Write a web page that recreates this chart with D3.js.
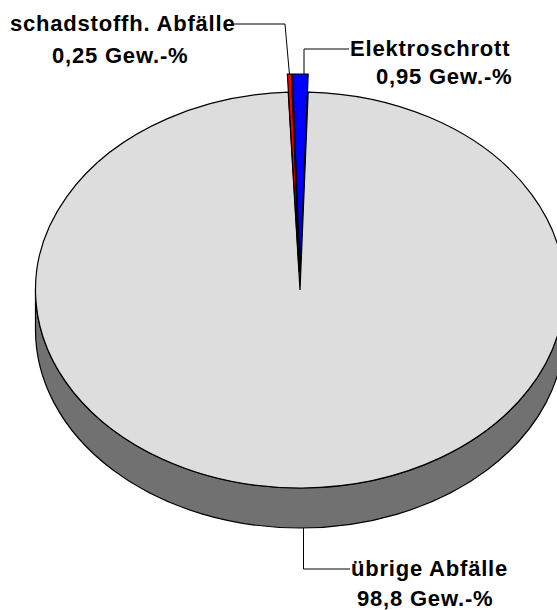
<!DOCTYPE html>
<html>
<head>
<meta charset="utf-8">
<script src="https://cdn.jsdelivr.net/npm/d3@7"></script>
<style>
  body { margin: 0; background: #fff; }
  text { font-family: "Liberation Sans", Arial, sans-serif; font-weight: bold; font-size: 22px; letter-spacing: 0.8px; fill: #000; }
</style>
</head>
<body>
<svg id="chart" width="557" height="610"></svg>
<script>
// waste shares by weight
const categories = ["schadstoffh. Abfälle", "Elektroschrott", "übrige Abfälle"];
const values = [0.25, 0.95, 98.8];
const valueLabels = ["0,25 Gew.-%", "0,95 Gew.-%", "98,8 Gew.-%"];
const exploded = [true, true, false];

const colors = ["#ff0000", "#0000ff", "#dddddd"];
const sideColor = "#717171";

const svg = d3.select("#chart");
const cx = 300, cy = 290;
const rx = 264.5, ry = 198;
const depth = 40;          // px on screen
const explode = 18;        // px on screen (vertical at top)
const k = ry / rx;
const start = -2.55 * Math.PI / 180;

const pie = d3.pie().sort(null).startAngle(start).endAngle(start + 2 * Math.PI);
const slices = pie(values).map((d, i) => Object.assign(d, {i: i}));
const arc = d3.arc().innerRadius(0).outerRadius(rx);

const g = svg.append("g").attr("transform", `translate(${cx},${cy}) scale(1,${k})`);

// side wall of the front half of the big slice
const main = slices[2];
const t0 = Math.max(main.startAngle, Math.PI / 2);
const t1 = Math.min(main.endAngle, 3 * Math.PI / 2);
const dz = depth / k;
const side = d3.path();
side.arc(0, 0, rx, t0 - Math.PI / 2, t1 - Math.PI / 2);
side.lineTo(rx * Math.sin(t1), -rx * Math.cos(t1) + dz);
side.arc(0, dz, rx, t1 - Math.PI / 2, t0 - Math.PI / 2, true);
side.closePath();
g.append("path")
  .attr("d", side.toString())
  .attr("fill", sideColor)
  .attr("stroke", "#000")
  .attr("stroke-width", 1.2)
  .attr("vector-effect", "non-scaling-stroke");

// top face of big slice
g.append("path")
  .attr("d", arc(main))
  .attr("fill", colors[2])
  .attr("stroke", "#000")
  .attr("stroke-width", 1.2)
  .attr("vector-effect", "non-scaling-stroke");

// gap left by exploded slices (dark walls)
g.selectAll(".gap")
  .data(slices.filter(d => exploded[d.i]))
  .enter()
  .append("path")
  .attr("class", "gap")
  .attr("d", arc)
  .attr("fill", "#000");

// exploded slices
const e = explode / k;
function offset(d) {
  const m = (d.startAngle + d.endAngle) / 2;
  return [e * Math.sin(m), -e * Math.cos(m)];
}
g.selectAll(".slice")
  .data(slices.filter(d => exploded[d.i]))
  .enter()
  .append("path")
  .attr("class", "slice")
  .attr("d", arc)
  .attr("transform", d => `translate(${offset(d)})`)
  .attr("fill", d => colors[d.i])
  .attr("stroke", "#000")
  .attr("stroke-width", 1.2)
  .attr("vector-effect", "non-scaling-stroke");

// screen point on the outer rim of a slice
function rim(d, extra) {
  const m = (d.startAngle + d.endAngle) / 2;
  const r = rx + extra;
  return [cx + r * Math.sin(m), cy - r * Math.cos(m) * k];
}

// labels and leader lines
const labelPos = [
  {x: 10, y: 31, x2: 52, y2: 63, end: 234, bend: [285, 24]},
  {x: 350, y: 56, x2: 376, y2: 83.5, end: 349, bend: [304, 49]},
  {x: 351, y: 576, x2: 357, y2: 606, end: 350, bend: [303.5, 569]}
];

const leader = d3.line();
slices.forEach(function (d) {
  const p = labelPos[d.i];
  let tip;
  if (exploded[d.i]) {
    tip = rim(d, e);
  } else {
    tip = [p.bend[0], cy + ry + depth];
  }
  if (d.i === 1) tip = [p.bend[0], tip[1]];
  svg.append("path")
    .attr("d", leader([tip, p.bend, [p.end, p.bend[1]]]))
    .attr("fill", "none")
    .attr("stroke", "#000")
    .attr("stroke-width", 1);

  svg.append("text").attr("x", p.x).attr("y", p.y).text(categories[d.i]);
  svg.append("text").attr("x", p.x2).attr("y", p.y2).text(valueLabels[d.i]);
});
</script>
</body>
</html>
